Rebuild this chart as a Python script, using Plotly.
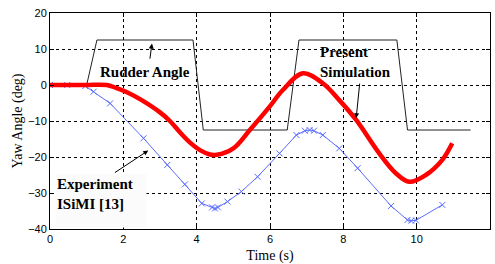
import plotly.graph_objects as go

# Rudder angle
rud_t = [0, 1.0, 1.28, 3.9, 4.18, 6.47, 6.79, 9.46, 9.75, 11.47]
rud_y = [0, 0, 12.5, 12.5, -12.5, -12.5, 12.5, 12.5, -12.5, -12.5]

# Present simulation
sim_t = [0, 0.5, 1.0, 1.55, 1.8, 2.1, 2.5, 3.0, 3.27, 3.55, 3.82, 4.09, 4.36,
         4.55, 5.0, 5.45, 5.99, 6.35, 6.9, 7.44, 7.89, 8.35, 8.98, 9.43, 9.8,
         10.25, 10.7, 10.97]
sim_y = [0, 0, 0, 0, -0.8, -2.0, -4.2, -7.6, -10.0, -13.2, -16.0, -18.1, -19.3,
         -19.4, -17.6, -12.5, -6.0, -1.4, 3.25, 0.5, -4.2, -9.7, -19.0, -24.5,
         -26.9, -25.0, -20.8, -16.2]

# Experiment ISiMI [13]
exp_t = [0, 0.47, 0.96, 1.19, 1.64, 2.55, 3.2, 3.68, 4.14, 4.42, 4.5, 4.58, 4.84,
         5.22, 5.66, 6.26, 6.72, 6.95, 7.08, 7.2, 7.44, 7.89, 8.39, 9.3, 9.75,
         9.85, 9.98, 10.7]
exp_y = [0, 0, -0.3, -1.85, -5.1, -14.8, -22.2, -27.6, -32.9, -34.0, -34.3, -34.0,
         -32.4, -29.6, -25.5, -19.0, -13.9, -12.7, -12.5, -12.7, -13.9, -17.6,
         -23.1, -33.6, -37.5, -37.7, -37.6, -33.3]

fig = go.Figure()
fig.add_trace(go.Scatter(x=rud_t, y=rud_y, mode="lines",
                         line=dict(color="#222222", width=1), showlegend=False))
fig.add_trace(go.Scatter(x=exp_t, y=exp_y, mode="lines+markers",
                         line=dict(color="#5a6cff", width=1),
                         marker=dict(symbol="x-thin", size=6,
                                     line=dict(color="#5a6cff", width=1)),
                         showlegend=False))
fig.add_trace(go.Scatter(x=sim_t, y=sim_y, mode="lines", line_shape="spline",
                         line=dict(color="#ff0000", width=4.5), showlegend=False))

axis_common = dict(
    showline=True, linecolor="black", linewidth=1, mirror="ticks",
    ticks="inside", ticklen=4, tickcolor="black",
    showgrid=True, gridcolor="black", gridwidth=1, griddash="3px,3px",
    zeroline=False, automargin=False,
    tickfont=dict(family="Liberation Sans, Arial", size=11, color="black"),
)

fig.update_xaxes(range=[0, 12], tickvals=[0, 2, 4, 6, 8, 10, 12],
                 title=dict(text="Time (s)", standoff=5,
                            font=dict(family="Liberation Serif, Times New Roman",
                                      size=14, color="black")),
                 **axis_common)
fig.update_yaxes(range=[-40, 20], tickvals=[-40, -30, -20, -10, 0, 10, 20],
                 title=dict(text="Yaw Angle (deg)", standoff=2,
                            font=dict(family="Liberation Serif, Times New Roman",
                                      size=14, color="black")),
                 **axis_common)

ann_font = dict(family="Liberation Serif, Times New Roman", size=15, color="black")
fig.add_annotation(x=2.6, y=3.6, text="<b>Rudder Angle</b>", showarrow=False,
                   font=ann_font, xanchor="center", yanchor="middle")
fig.add_annotation(x=2.78, y=11.5, ax=2.72, ay=6.9, xref="x", yref="y",
                   axref="x", ayref="y", showarrow=True, arrowhead=2,
                   arrowsize=1, arrowwidth=1, arrowcolor="black", text="")
fig.add_annotation(x=7.31, y=6.4, text="<b>Present<br>Simulation</b>",
                   showarrow=False, font=ann_font, xanchor="left",
                   yanchor="middle", align="left")
fig.add_annotation(x=8.35, y=-9.2, ax=8.45, ay=0.8, xref="x", yref="y",
                   axref="x", ayref="y", showarrow=True, arrowhead=2,
                   arrowsize=1, arrowwidth=1, arrowcolor="black", text="")
fig.add_annotation(x=0.14, y=-24.7, text="<b>Experiment<br>ISiMI [13]</b>",
                   showarrow=False, font=ann_font, xanchor="left",
                   yanchor="top", align="left", valign="top",
                   width=88, height=50, borderpad=1, bgcolor="#fbfbfb")
fig.add_annotation(x=2.68, y=-18.2, ax=1.73, ay=-24.6, xref="x", yref="y",
                   axref="x", ayref="y", showarrow=True, arrowhead=2,
                   arrowsize=1, arrowwidth=1, arrowcolor="black", text="")

fig.update_layout(
    width=495, height=264,
    margin=dict(l=50, r=5, t=13, b=35),
    paper_bgcolor="white", plot_bgcolor="white",
)

fig.write_html("out.html", config={"displayModeBar": False},
               post_script="document.body.style.margin='0px';")
